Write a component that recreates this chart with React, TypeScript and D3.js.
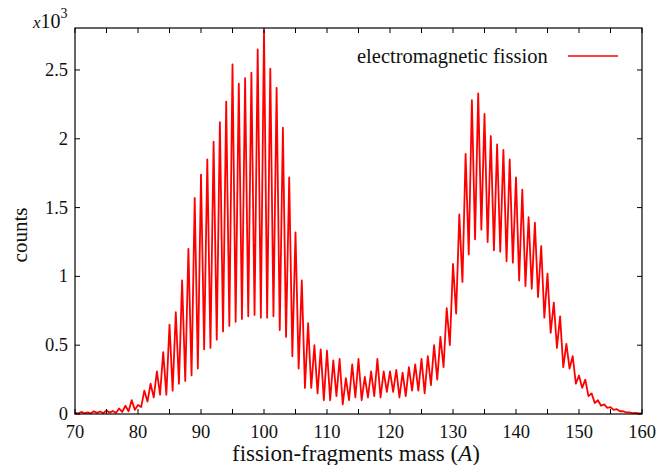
import React from "react";
import * as d3 from "d3";

// integer masses 70..160
const massStart = 70;
const peakCounts = [
  0.010, 0.015, 0.012, 0.020, 0.018, 0.025, 0.022, 0.040, 0.060, 0.100,
  0.065, 0.170, 0.220, 0.310, 0.450, 0.650, 0.740, 0.970, 1.200, 1.570,
  1.740, 1.850, 1.980, 2.120, 2.270, 2.540, 2.400, 2.440, 2.480, 2.650,
  2.790, 2.510, 2.370, 2.080, 1.720, 1.320, 0.970, 0.660, 0.500, 0.470,
  0.460, 0.390, 0.400, 0.260, 0.360, 0.400, 0.270, 0.310, 0.400, 0.310,
  0.310, 0.320, 0.300, 0.340, 0.360, 0.400, 0.420, 0.500, 0.560, 0.770,
  1.090, 1.450, 1.890, 2.280, 2.330, 2.180, 2.020, 1.960, 1.920, 1.850,
  1.720, 1.630, 1.430, 1.390, 1.220, 1.020, 0.810, 0.710, 0.510, 0.420,
  0.280, 0.250, 0.150, 0.100, 0.070, 0.050, 0.035, 0.020, 0.012, 0.008,
  0.005,
];
// half-integer masses 70.5..159.5
const valleyCounts = [
  0.003, 0.005, 0.004, 0.008, 0.006, 0.010, 0.008, 0.015, 0.020, 0.030,
  0.050, 0.090, 0.120, 0.140, 0.140, 0.170, 0.220, 0.240, 0.280, 0.330,
  0.470, 0.480, 0.540, 0.600, 0.640, 0.670, 0.690, 0.710, 0.720, 0.700,
  0.700, 0.710, 0.610, 0.560, 0.420, 0.330, 0.190, 0.190, 0.150, 0.100,
  0.100, 0.130, 0.070, 0.100, 0.120, 0.100, 0.120, 0.130, 0.120, 0.160,
  0.160, 0.120, 0.130, 0.170, 0.170, 0.150, 0.210, 0.250, 0.340, 0.500,
  0.730, 0.960, 1.160, 1.270, 1.340, 1.250, 1.190, 1.180, 1.110, 1.100,
  0.970, 0.930, 0.910, 0.850, 0.700, 0.590, 0.480, 0.340, 0.330, 0.220,
  0.190, 0.130, 0.080, 0.060, 0.045, 0.030, 0.020, 0.012, 0.007, 0.005,
];
const xTicks = [70, 80, 90, 100, 110, 120, 130, 140, 150, 160];
const xMinorTicks = [75, 85, 95, 105, 115, 125, 135, 145, 155];
const yTicks = [0, 0.5, 1, 1.5, 2, 2.5];
const yTickLabels = ["0", "0.5", "1", "1.5", "2", "2.5"];
const seriesName = "electromagnetic fission";
const xTitle = "fission-fragments mass (";
const yTitle = "counts";

export default function App() {
  const W = 656, H = 465;
  const m = { l: 75, r: 642, t: 28, b: 414 };
  const x = d3.scaleLinear().domain([70, 160]).range([m.l, m.r]);
  const y = d3.scaleLinear().domain([0, 2.805]).range([m.b, m.t]);

  const pts: [number, number][] = [];
  peakCounts.forEach((v, i) => {
    pts.push([massStart + i, v]);
    if (i < valleyCounts.length) pts.push([massStart + i + 0.5, valleyCounts[i]]);
  });
  const line = d3.line<[number, number]>().x(d => x(d[0])).y(d => y(d[1]));
  const font = "'Liberation Serif', 'Times New Roman', serif";
  const tl = 5;

  return (
    <svg width={W} height={H} style={{ position: "absolute", left: 0, top: 0 }} fontFamily={font}>
      <rect x={0} y={0} width={W} height={H} fill="white" />
      <defs>
        <clipPath id="pc"><rect x={m.l} y={m.t} width={m.r - m.l} height={m.b - m.t} /></clipPath>
      </defs>
      <path d={line(pts) || ""} fill="none" stroke="#ff0000" strokeWidth={1.8} strokeLinejoin="round" clipPath="url(#pc)" />
      <g stroke="black" strokeWidth={1}>
        {[...xTicks, ...xMinorTicks].map(t => (
          <g key={"xt" + t}>
            <line x1={x(t)} x2={x(t)} y1={m.b} y2={m.b - tl} />
            <line x1={x(t)} x2={x(t)} y1={m.t} y2={m.t + tl} />
          </g>
        ))}
        {yTicks.map(t => (
          <g key={"yt" + t}>
            <line x1={m.l} x2={m.l + tl} y1={y(t)} y2={y(t)} />
            <line x1={m.r} x2={m.r - tl} y1={y(t)} y2={y(t)} />
          </g>
        ))}
      </g>
      <rect x={m.l} y={m.t} width={m.r - m.l} height={m.b - m.t} fill="none" stroke="black" strokeWidth={1.2} />
      <g fontSize={18.5} fill="#111">
        {xTicks.map(t => (
          <text key={"xl" + t} x={x(t)} y={438} textAnchor="middle">{t}</text>
        ))}
        {yTicks.map((t, i) => (
          <text key={"yl" + t} x={68} y={y(t) + 6} textAnchor="end">{yTickLabels[i]}</text>
        ))}
      </g>
      <text x={33} y={28} fontSize={20} fill="#111">
        <tspan fontStyle="italic" fontSize={17}>x</tspan>10<tspan fontSize={14} dy={-10}>3</tspan>
      </text>
      <text x={357} y={63} fontSize={20.5} fill="#111">{seriesName}</text>
      <line x1={568} x2={618} y1={56} y2={56} stroke="#ff0000" strokeWidth={1.5} />
      <text x={356} y={461} fontSize={23} textAnchor="middle" fill="#111">
        {xTitle}<tspan fontStyle="italic">A</tspan>)
      </text>
      <text transform={`translate(27,235) rotate(-90)`} fontSize={21} textAnchor="middle" fill="#111">{yTitle}</text>
    </svg>
  );
}
